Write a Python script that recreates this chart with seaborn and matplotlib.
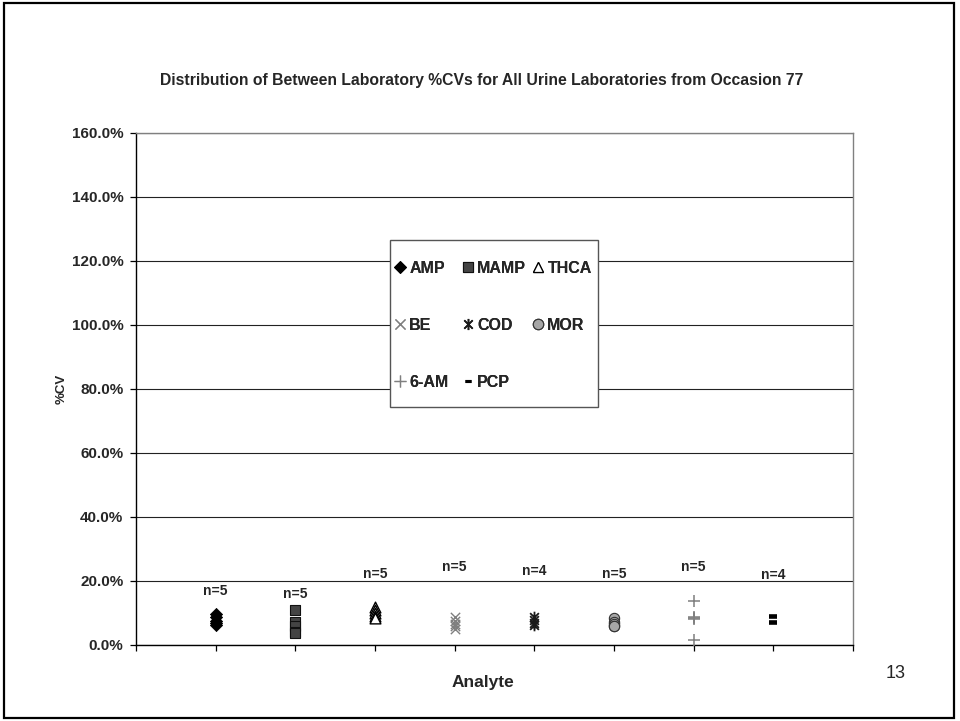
import numpy as np
import pandas as pd
import matplotlib
matplotlib.use("Agg")
import matplotlib.pyplot as plt
from matplotlib.path import Path
from matplotlib.lines import Line2D
from matplotlib.patches import Rectangle
import seaborn as sns

# ---- data: between-laboratory %CV per analyte ----
analytes = ["AMP", "MAMP", "THCA", "BE", "COD", "MOR", "6-AM", "PCP"]
amp = [9.6, 8.6, 7.6, 6.9, 6.4]
mamp = [10.9, 7.3, 6.0, 4.1, 3.9]
thca = [12.0, 11.0, 10.0, 9.0, 8.3]
be = [8.8, 7.5, 6.5, 5.8, 5.0]
cod = [8.8, 7.8, 6.8, 6.2]
mor = [8.4, 7.2, 6.5, 6.0, 5.8]
six_am = [13.8, 8.8, 8.5, 8.2, 1.5]
pcp = [9.1, 8.8, 7.2, 7.0]
series_values = [amp, mamp, thca, be, cod, mor, six_am, pcp]

# count labels and the height (in %CV) they sit at
n_labels = ["n=5", "n=5", "n=5", "n=5", "n=4", "n=5", "n=5", "n=4"]
n_label_y = [16.9, 15.9, 22.2, 24.4, 23.1, 22.2, 24.4, 21.9]

y_ticks = [0, 20, 40, 60, 80, 100, 120, 140, 160]
y_tick_labels = [f"{v:.1f}%" for v in y_ticks]

rows = []
for i, (name, vals) in enumerate(zip(analytes, series_values), start=1):
    for v in vals:
        rows.append({"Analyte": name, "pos": i, "cv": v})
df = pd.DataFrame(rows)

# ---- marker styles ----
star_path = Path(
    [(0, -1), (0, 1), (-0.75, -0.75), (0.75, 0.75), (-0.75, 0.75), (0.75, -0.75)],
    [Path.MOVETO, Path.LINETO, Path.MOVETO, Path.LINETO, Path.MOVETO, Path.LINETO],
)
styles = {
    "AMP":  dict(marker="D", s=38, color="black", edgecolor="black", linewidth=0.6),
    "MAMP": dict(marker="s", s=60, color="#444444", edgecolor="#111111", linewidth=0.8),
    "THCA": dict(marker="^", s=60, color="white", edgecolor="black", linewidth=1.0),
    "BE":   dict(marker="x", s=45, color="#7f7f7f", linewidth=1.0),
    "COD":  dict(marker=star_path, s=70, color="#1a1a1a", edgecolor="#1a1a1a", linewidth=1.3),
    "MOR":  dict(marker="o", s=55, color="#a6a6a6", edgecolor="#333333", linewidth=0.8),
    "6-AM": dict(marker="+", s=75, color="#7f7f7f", linewidth=1.1),
    "PCP":  dict(marker="_", s=28, color="black", linewidth=2.6),
}

sns.set_style("ticks")
plt.rcParams["font.family"] = ["Liberation Sans", "DejaVu Sans"]

fig = plt.figure(figsize=(9.6, 7.21), dpi=100)
ax = fig.add_axes([136 / 960, 1 - 645 / 721, 717 / 960, 512 / 721])

for name in analytes:
    sub = df[df["Analyte"] == name]
    st = styles[name]
    sns.scatterplot(data=sub, x="pos", y="cv", ax=ax, legend=False, zorder=3, **st)

for i, (lab, yv) in enumerate(zip(n_labels, n_label_y), start=1):
    ax.text(i, yv, lab, ha="center", va="center", fontsize=10, fontweight="bold")

ax.set_xlim(0, 9)
ax.set_ylim(0, 160)
ax.set_xticks(range(0, 10))
ax.set_xticklabels([])
ax.set_yticks(y_ticks)
ax.set_yticklabels(y_tick_labels, fontsize=11, fontweight="bold")
ax.tick_params(axis="both", direction="out", length=4, width=0.9, color="black", pad=5)
ax.yaxis.grid(True, color="#222222", linewidth=0.8)
ax.set_axisbelow(True)
for side in ("left", "bottom"):
    ax.spines[side].set_color("black")
    ax.spines[side].set_linewidth(1.0)
for side in ("top", "right"):
    ax.spines[side].set_visible(True)
    ax.spines[side].set_color("#808080")
    ax.spines[side].set_linewidth(1.0)

ax.set_xlabel("Analyte", fontsize=12.5, fontweight="bold")
ax.xaxis.set_label_coords((483 - 136) / 717, (645 - 675) / 512)
ax.set_ylabel("%CV", fontsize=9.5, fontweight="bold")
ax.yaxis.set_label_coords((68 - 136) / 717, 0.5)

# legend: three columns, each placed on its own
legend_columns = [["AMP", "BE", "6-AM"], ["MAMP", "COD", "PCP"], ["THCA", "MOR"]]
column_left_px = [395, 463, 533]
legend_size = {"AMP": 6.5, "MAMP": 7, "THCA": 7, "BE": 7, "COD": 8,
               "MOR": 7.5, "6-AM": 8.5, "PCP": 5}
legend_edge = {"AMP": 0.6, "MAMP": 0.8, "THCA": 0.9, "BE": 0.9, "COD": 1.2,
               "MOR": 0.8, "6-AM": 0.9, "PCP": 2.2}


def legend_handle(name):
    st = styles[name]
    return Line2D(
        [], [], linestyle="none", marker=st["marker"],
        markersize=legend_size[name],
        markerfacecolor=st["color"],
        markeredgecolor=st.get("edgecolor", st["color"]),
        markeredgewidth=legend_edge[name],
        label=name,
    )


for names, left in zip(legend_columns, column_left_px):
    leg = fig.legend(
        handles=[legend_handle(n) for n in names], loc="upper left",
        bbox_to_anchor=(left / 960, 1 - 261 / 721),
        ncol=1, frameon=False,
        prop={"weight": "bold", "size": 11.5},
        handlelength=0.6, handletextpad=0.3,
        labelspacing=2.62, borderpad=0, borderaxespad=0,
    )
    fig.add_artist(leg)

# legend box
fig.patches.append(Rectangle((390 / 960, 1 - 407 / 721), 208 / 960, 167 / 721,
                             transform=fig.transFigure, facecolor="white",
                             edgecolor="#555555", linewidth=1.0, zorder=0.5))

fig.text(482 / 960, 1 - 81 / 721,
         "Distribution of Between Laboratory %CVs for All Urine Laboratories from Occasion 77",
         ha="center", va="center", fontsize=11.3, fontweight="bold")
fig.text(896 / 960, 1 - 674 / 721, "13", ha="center", va="center", fontsize=13)

# outer slide frame
fig.patches.append(Rectangle((4 / 960, 3 / 721), 950 / 960, 715 / 721,
                             transform=fig.transFigure, fill=False,
                             edgecolor="black", linewidth=1.6))

fig.savefig("out.png", dpi=100)
